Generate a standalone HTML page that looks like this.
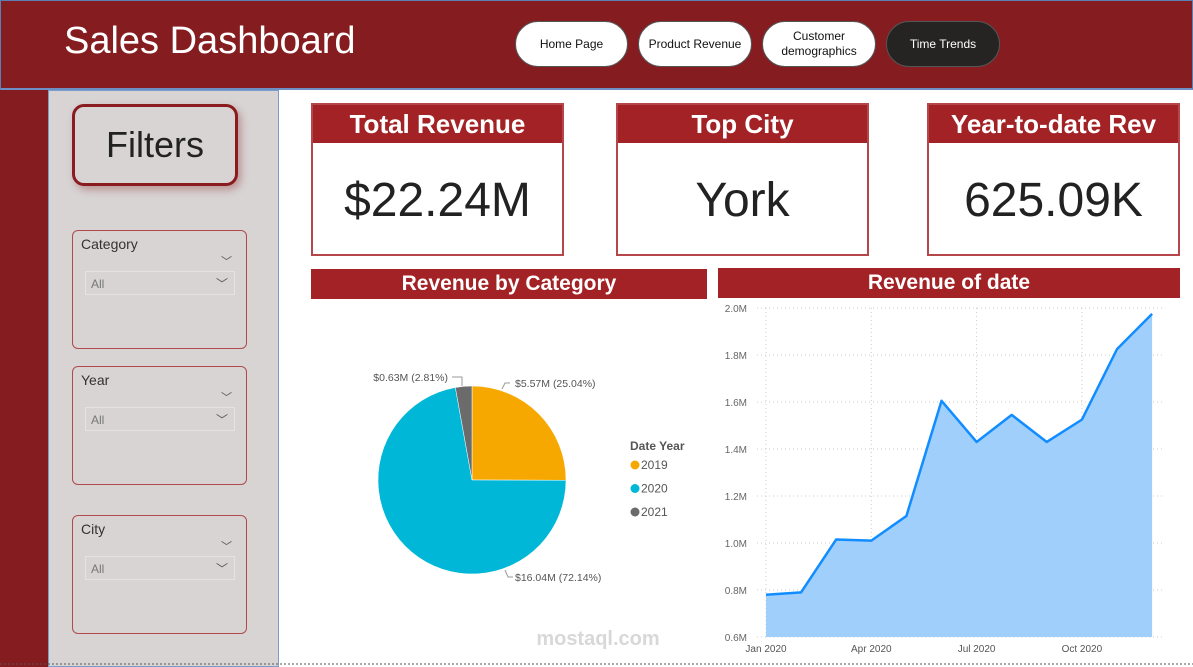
<!DOCTYPE html>
<html><head><meta charset="utf-8"><style>
*{box-sizing:border-box;margin:0;padding:0}
body{width:1193px;height:667px;overflow:hidden;background:#fff;font-family:"Liberation Sans",sans-serif;position:relative}
.abs{position:absolute}
.hdr{left:0;top:0;width:1193px;height:90px;background:#851c1f;border:1px solid #5a7fb5;border-bottom:2px solid #6d8fc4}
.title{left:64px;top:20px;color:#fff;font-size:38px}
.nav{top:21px;height:46px;border-radius:23px;background:#fff;border:1px solid #555;font-size:12px;display:flex;align-items:center;justify-content:center;text-align:center;line-height:15px;color:#111}
.strip{left:0;top:90px;width:48px;height:577px;background:#851c1f}
.side{left:48px;top:90px;width:231px;height:577px;background:#d8d4d4;border:1px solid #7a9cc8}
.filters{left:72px;top:104px;width:166px;height:82px;border:3px solid #8a1c20;border-radius:12px;background:#d8d4d4;box-shadow:3px 4px 8px rgba(138,28,32,.35);font-size:36px;color:#222;display:flex;align-items:center;justify-content:center}
.slicer{left:72px;width:175px;height:119px;border:1px solid #b04a4e;border-radius:6px}
.slicer .lab{position:absolute;left:8px;top:5px;font-size:14px;color:#333}
.slicer .chev{position:absolute;right:14px;top:22px;font-size:11px;color:#555}
.slicer .dd{position:absolute;left:12px;top:40px;width:150px;height:24px;border:1px solid #e6e2e2;font-size:12px;color:#777;padding:5px 5px}
.slicer .dd span{position:absolute;right:6px;top:3px;color:#555}
.card{top:103px;height:153px;border:2px solid #b5474b;background:#fff}
.card .ct{height:38px;background:#a32226;color:#fff;font-size:26px;font-weight:bold;text-align:center;line-height:38px}
.card .cv{font-size:48px;color:#222;text-align:center;line-height:115px}
.bar{height:30px;background:#a32226;color:#fff;font-size:21px;font-weight:bold;text-align:center;line-height:30px}
</style></head><body>
<div class="abs hdr"></div>
<div class="abs title">Sales Dashboard</div>
<div class="abs nav" style="left:515px;width:113px">Home Page</div>
<div class="abs nav" style="left:638px;width:114px">Product Revenue</div>
<div class="abs nav" style="left:762px;width:114px">Customer<br>demographics</div>
<div class="abs nav" style="left:886px;width:114px;background:#252423;color:#fff">Time Trends</div>
<div class="abs strip"></div>
<div class="abs side"></div>
<div class="abs filters">Filters</div>
<div class="abs slicer" style="top:230px"><div class="lab">Category</div><div class="chev">﹀</div><div class="dd">All<span>﹀</span></div></div>
<div class="abs slicer" style="top:366px"><div class="lab">Year</div><div class="chev">﹀</div><div class="dd">All<span>﹀</span></div></div>
<div class="abs slicer" style="top:515px"><div class="lab">City</div><div class="chev">﹀</div><div class="dd">All<span>﹀</span></div></div>

<div class="abs card" style="left:311px;width:253px"><div class="ct">Total Revenue</div><div class="cv">$22.24M</div></div>
<div class="abs card" style="left:616px;width:253px"><div class="ct">Top City</div><div class="cv">York</div></div>
<div class="abs card" style="left:927px;width:253px"><div class="ct">Year-to-date Rev</div><div class="cv">625.09K</div></div>
<div class="abs bar" style="left:311px;top:269px;width:396px">Revenue by Category</div>
<div class="abs bar" style="left:718px;top:268px;width:462px">Revenue of date</div>

<svg class="abs" style="left:0;top:0" width="1193" height="667" id="charts">
<line x1="0" y1="664" x2="1193" y2="664" stroke="#555" stroke-dasharray="2,2"/>
</svg>
<script>
const NS="http://www.w3.org/2000/svg";
const svg=document.getElementById('charts');
const pieYears=["2019","2020","2021"];
const pieValues=[5.57,16.04,0.63];
const pieLabels=["$5.57M (25.04%)","$16.04M (72.14%)","$0.63M (2.81%)"];
const pieColors=["#f7a800","#00b7d8","#6b6b6b"];
const months=["Jan","Feb","Mar","Apr","May","Jun","Jul","Aug","Sep","Oct","Nov","Dec"];
const revenue=[0.78,0.79,1.015,1.01,1.115,1.605,1.43,1.545,1.43,1.525,1.825,1.975];
const yTicks=[0.6,0.8,1.0,1.2,1.4,1.6,1.8,2.0];
const xTickIdx=[0,3,6,9];
const xTickLabels=["Jan 2020","Apr 2020","Jul 2020","Oct 2020"];
function mk(t,a,p){const e=document.createElementNS(NS,t);for(const k in a)e.setAttribute(k,a[k]);(p||svg).appendChild(e);return e;}
// pie
const cx=472,cy=480,r=94;
const tot=pieValues.reduce((a,b)=>a+b,0);
let ang=0;
const lblPos=[[515,383,"start"],[515,577,"start"],[448,377,"end"]];
pieValues.forEach((v,i)=>{
 const a0=ang,a1=ang+v/tot*2*Math.PI;ang=a1;
 const p=(a)=>[cx+r*Math.sin(a),cy-r*Math.cos(a)];
 const [x0,y0]=p(a0),[x1,y1]=p(a1);
 const s=mk('path',{d:`M${cx},${cy}L${x0},${y0}A${r},${r} 0 ${a1-a0>Math.PI?1:0} 1 ${x1},${y1}Z`,fill:pieColors[i],stroke:'#fff','stroke-width':0.5});
 
 
 const t=mk('text',{x:lblPos[i][0],y:lblPos[i][1]+4,'text-anchor':lblPos[i][2],'font-size':10.5,fill:'#555'});
 t.textContent=pieLabels[i];
 
 
});
mk('polyline',{points:"510,383 505,383 502,389",fill:'none',stroke:'#999'});
mk('polyline',{points:"452,377 462,377 462,386",fill:'none',stroke:'#999'});
mk('polyline',{points:"513,577 508,577 505,570",fill:'none',stroke:'#999'});
const lt=mk('text',{x:630,y:450,'font-size':12,'font-weight':'bold',fill:'#555'});lt.textContent="Date Year";


pieYears.forEach((y,i)=>{
 const g=mk('g',{});
 
 
 mk('circle',{cx:635,cy:465+i*23.5,r:4.5,fill:pieColors[i]},g);
 const t=mk('text',{x:641,y:469+i*23.5,'font-size':12,fill:'#555'},g);t.textContent=y;
});
// line/area
const X=i=>766+i*35.1, Y=v=>637-(v-0.6)/1.4*329;
yTicks.forEach(v=>{
 mk('line',{x1:757,x2:1162,y1:Y(v),y2:Y(v),stroke:'#ccc','stroke-dasharray':'1,3'});
 const t=mk('text',{x:747,y:Y(v)+4,'text-anchor':'end','font-size':10,fill:'#666'});t.textContent=v.toFixed(1)+"M";
 
 
});
xTickIdx.forEach((m,i)=>{
 mk('line',{x1:X(m),x2:X(m),y1:308,y2:637,stroke:'#ccc','stroke-dasharray':'1,3'});
 const t=mk('text',{x:X(m),y:652,'text-anchor':'middle','font-size':10,fill:'#555'});t.textContent=xTickLabels[i];
 
 
});
let pts=revenue.map((v,i)=>X(i)+","+Y(v)).join(" ");
const area=mk('polygon',{points:`${X(0)},${Y(0.6)} ${pts} ${X(revenue.length-1)},${Y(0.6)}`,fill:'#a0cffc'});


const ln=mk('polyline',{points:pts,fill:'none',stroke:'#118dff','stroke-width':2.5,'stroke-linejoin':'round'});


const wm=mk('text',{x:598,y:645,'text-anchor':'middle','font-size':20,'font-weight':'bold',fill:'#d8d8d8'});wm.textContent="mostaql.com";


</script>
</body></html>
